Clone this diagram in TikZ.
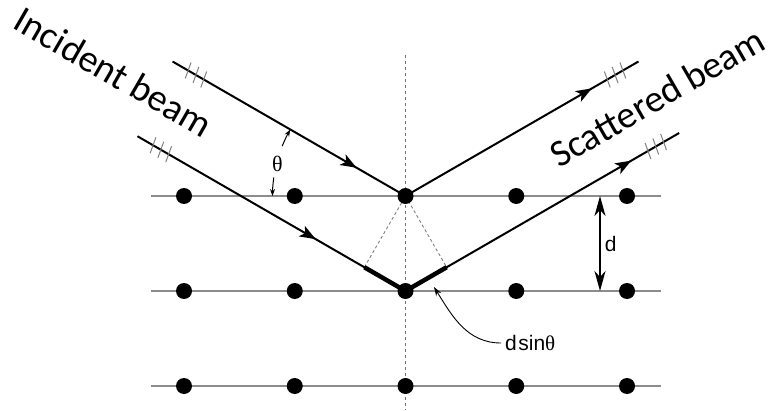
\documentclass[tikz,border=0pt]{standalone}
\usepackage{fontspec}
\setmainfont{Liberation Sans}
\newfontfamily\beamfont{Carlito}
\newfontfamily\greekfont{Liberation Serif}
\usetikzlibrary{positioning, arrows.meta, calc, decorations.markings, backgrounds}

\tikzstyle{atom} = [
    circle, fill=black,
    minimum size=16pt, inner sep=0pt
]
\tikzstyle{plane} = [line width=1.3pt, draw=black!45]
\tikzstyle{normal} = [line width=1pt, draw=black!55, dash pattern=on 3pt off 3pt]
\tikzstyle{beam} = [line width=2pt]
\tikzstyle{hatch} = [line width=1pt, draw=black!50]
\tikzstyle{pathdiff} = [line width=4.5pt]
\tikzstyle{foot} = [line width=0.9pt, draw=black!50, dash pattern=on 3pt off 2.5pt]
\tikzstyle{dim} = [line width=1.5pt,
    {Stealth[length=20pt,width=11pt,inset=6pt]}-{Stealth[length=20pt,width=11pt,inset=6pt]}]
\tikzstyle{angle arrow} = [line width=1pt, -{Stealth[length=7pt,width=5pt]}]
\tikzstyle{pointer} = [line width=0.9pt, -{Stealth[length=9pt,width=6pt]}]
\tikzset{beam arrow/.style={
    postaction={decorate},
    decoration={markings,
        mark=at position #1 with {\arrow{Stealth[length=16pt,width=12pt,inset=4pt]}}}
}}

\begin{document}
\begin{tikzpicture}[x=1pt, y=1pt, node distance=95pt,
        font=\fontsize{21}{25}\selectfont]
    \useasboundingbox (0,0) rectangle (776,410);

    % Draw atoms
    \node (a1) [atom] at (184,214) {};
    \node (a2) [atom, right of=a1, xshift=15.75pt] {};
    \node (a3) [atom, right of=a2, xshift=15.75pt] {};
    \node (a4) [atom, right of=a3, xshift=15.75pt] {};
    \node (a5) [atom, right of=a4, xshift=15.75pt] {};
    \node (b1) [atom, below of=a1] {};
    \node (b2) [atom, below of=a2] {};
    \node (b3) [atom, below of=a3] {};
    \node (b4) [atom, below of=a4] {};
    \node (b5) [atom, below of=a5] {};
    \node (c1) [atom, below of=b1] {};
    \node (c2) [atom, below of=b2] {};
    \node (c3) [atom, below of=b3] {};
    \node (c4) [atom, below of=b4] {};
    \node (c5) [atom, below of=b5] {};

    % Beam ends
    \coordinate (inA) at ($(a3)+(150:269)$);
    \coordinate (inB) at ($(b3)+(150:309.5)$);
    \coordinate (outA) at ($(a3)+(30:269)$);
    \coordinate (outB) at ($(b3)+(30:316)$);
    \coordinate (footL) at ($(b3)+(150:47.5)$);
    \coordinate (footR) at ($(b3)+(30:47.5)$);

    % Draw planes
    \begin{scope}[on background layer]
        \draw [plane] ([xshift=-33pt]a1.center) -- ([xshift=34pt]a5.center);
        \draw [plane] ([xshift=-33pt]b1.center) -- ([xshift=34pt]b5.center);
        \draw [plane] ([xshift=-33pt]c1.center) -- ([xshift=34pt]c5.center);
        \draw [normal] ([yshift=141pt]a3.center) -- ([yshift=-24pt]c3.center);
        \draw [foot] (footL) -- (a3.center) -- (footR);
    \end{scope}

    % Draw beams
    \draw [beam, beam arrow=0.79] (inA) -- (a3.center);
    \draw [beam, beam arrow=0.665] (inB) -- (b3.center);
    \draw [beam, beam arrow=0.80] (a3.center) -- (outA);
    \draw [beam, beam arrow=0.825] (b3.center) -- (outB);
    \draw [pathdiff] (footL) -- (b3.center) -- (footR);

    % Draw hatches
    \foreach \s in {18,27,36} {
        \draw [hatch] ($(inA)+(-30:\s)$) ++(70:8.5) -- ++(250:17);
        \draw [hatch] ($(inB)+(-30:\s)$) ++(70:8.5) -- ++(250:17);
        \draw [hatch] ($(outA)+(210:\s)$) ++(110:8.5) -- ++(290:17);
        \draw [hatch] ($(outB)+(210:\s)$) ++(110:8.5) -- ++(290:17);
    }

    % Draw labels
    \node (incident) [rotate=-30, font=\beamfont\fontsize{38}{46}\selectfont]
        at (113.5,338) {Incident beam};
    \node (scattered) [rotate=30, font=\beamfont\fontsize{38}{46}\selectfont]
        at (657,313) {Scattered beam};
    \node (theta) [font=\greekfont\fontsize{22}{26}\selectfont]
        at ($(a3)+(166:132)$) {θ};
    \draw [angle arrow] ($(a3)+(158:133)$) arc [start angle=158, end angle=150, radius=133];
    \draw [angle arrow] ($(a3)+(172:133)$) arc [start angle=172, end angle=180, radius=133];
    \draw [dim] ([xshift=-27pt]a5.center) -- node[right, inner sep=4pt] {d} ([xshift=-27pt]b5.center);
    \node (dsin) [anchor=west, inner sep=0pt] at (505,67) {d\hspace{1.5pt}sin{\greekfont θ}};
    \coordinate (dtip) at ($(b3)+(28.5,4)$);
    \draw [pointer] ([xshift=-4pt]dsin.west) to[out=180, in=-58] (dtip);
\end{tikzpicture}
\end{document}
